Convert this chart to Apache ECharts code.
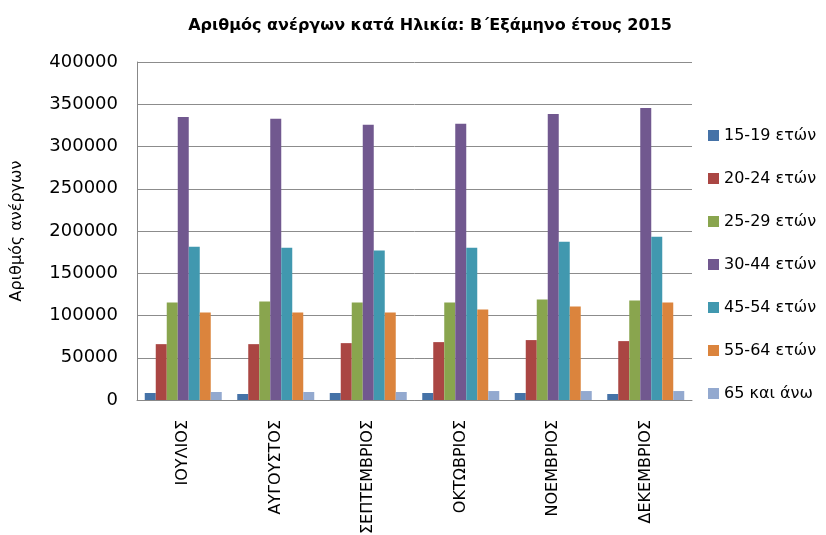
<!DOCTYPE html>
<html>
<head>
<meta charset="utf-8">
<script src="https://cdn.jsdelivr.net/npm/echarts@6/dist/echarts.min.js"></script>
<style>
  html, body { margin: 0; padding: 0; background: #fff; }
  #chart { width: 826px; height: 535px; }
</style>
</head>
<body>
<div id="chart"></div>
<script>
// μήνες Β' εξαμήνου 2015
var months = ['ΙΟΥΛΙΟΣ', 'ΑΥΓΟΥΣΤΟΣ', 'ΣΕΠΤΕΜΒΡΙΟΣ', 'ΟΚΤΩΒΡΙΟΣ', 'ΝΟΕΜΒΡΙΟΣ', 'ΔΕΚΕΜΒΡΙΟΣ'];
var ageGroups = ['15-19 ετών', '20-24 ετών', '25-29 ετών', '30-44 ετών', '45-54 ετών', '55-64 ετών', '65 και άνω'];

var age15_19 = [8300, 7100, 8300, 8300, 8300, 7100];
var age20_24 = [66100, 66100, 67300, 68500, 70900, 69700];
var age25_29 = [115400, 116500, 115400, 115400, 118900, 117700];
var age30_44 = [335000, 332700, 325600, 326800, 338600, 345700];
var age45_54 = [181500, 180300, 176800, 180300, 187400, 193300];
var age55_64 = [103500, 103500, 103500, 107100, 110600, 115400];
var age65plus = [9500, 9500, 9500, 10600, 10600, 10600];

var yTicks = [0, 50000, 100000, 150000, 200000, 250000, 300000, 350000, 400000];

var colors = ['#4572A7', '#AA4643', '#89A54E', '#71588F', '#4198AF', '#DB843D', '#93A9CF'];
var seriesValues = [age15_19, age20_24, age25_29, age30_44, age45_54, age55_64, age65plus];

var font = '"DejaVu Sans", sans-serif';
var chart = echarts.init(document.getElementById('chart'));

var series = ageGroups.map(function (name, i) {
    return {
        name: name,
        type: 'bar',
        barWidth: 11,
        barGap: '0%',
        itemStyle: { color: colors[i] },
        data: seriesValues[i]
    };
});

chart.setOption({
    animation: false,
    backgroundColor: '#fff',
    color: colors,
    title: {
        text: 'Αριθμός ανέργων κατά Ηλικία: Β΄Εξάμηνο έτους 2015',
        left: 425,
        textAlign: 'center',
        top: 13,
        textStyle: { fontFamily: font, fontSize: 16, fontWeight: 'bold', color: '#000' }
    },
    legend: {
        orient: 'vertical',
        left: 703,
        top: 122,
        itemWidth: 11,
        itemHeight: 11,
        itemGap: 26,
        icon: 'rect',
        textStyle: { fontFamily: font, fontSize: 16, color: '#000', lineHeight: 17 },
        data: ageGroups
    },
    grid: { left: 137, top: 62, width: 555, height: 338, outerBoundsMode: 'none' },
    xAxis: {
        type: 'category',
        data: months,
        axisLine: { lineStyle: { color: '#888' } },
        axisTick: { show: false },
        axisLabel: {
            rotate: 90,
            margin: 20,
            fontFamily: font,
            fontSize: 16,
            color: '#000'
        }
    },
    yAxis: {
        type: 'value',
        min: yTicks[0],
        max: yTicks[yTicks.length - 1],
        interval: 50000,
        name: 'Αριθμός ανέργων',
        nameLocation: 'middle',
        nameGap: 112,
        nameTextStyle: { fontFamily: font, fontSize: 16, color: '#000' },
        axisLine: { show: true, lineStyle: { color: '#888' } },
        axisTick: { show: false },
        axisLabel: {
            margin: 19,
            fontFamily: font,
            fontSize: 18,
            color: '#000',
            formatter: function (v) { return String(v); }
        },
        splitLine: { lineStyle: { color: '#8c8c8c', width: 1 } }
    },
    series: series
});
</script>
</body>
</html>
